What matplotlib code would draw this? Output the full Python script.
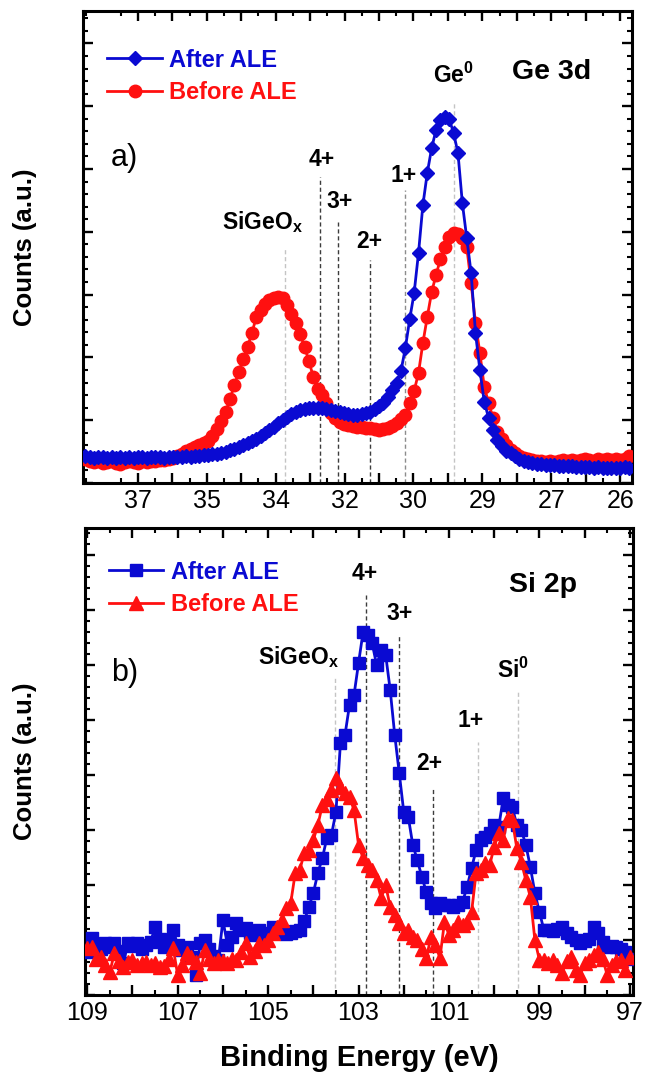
import numpy as np
import matplotlib
matplotlib.use("Agg")
import matplotlib.pyplot as plt
from matplotlib.ticker import MultipleLocator, FixedLocator, FuncFormatter
from matplotlib.lines import Line2D

plt.rcParams["font.family"] = ["Liberation Sans", "DejaVu Sans"]
plt.rcParams["mathtext.fontset"] = "custom"
plt.rcParams["mathtext.rm"] = "Liberation Sans"
plt.rcParams["mathtext.bf"] = "Liberation Sans:bold"

# ---------------- Ge 3d spectra (counts, a.u.) ----------------
ge_energy = np.round(np.arange(38.2, 25.75, -0.1), 1)   # 38.2 ... 25.8 eV

ge_before = [
    2.4, 2.2, 2.1, 2.2, 2.0, 2.1, 2.2, 2.0, 1.9, 2.1,
    2.2, 2.1, 2.0, 2.2, 2.1, 2.2, 2.2, 2.3, 2.3, 2.4,
    2.5, 2.7, 2.9, 3.2, 3.4, 3.6, 3.8, 4.0, 4.2, 4.7,
    5.4, 6.2, 7.1, 8.4, 9.8, 11.1, 12.4, 13.6, 15.0, 16.6,
    17.3, 17.9, 18.3, 18.5, 18.6, 18.5, 17.8, 16.9, 16.0, 14.9,
    13.6, 12.2, 10.6, 9.4, 8.8, 8.0, 7.0, 6.5, 6.1, 5.9,
    5.8, 5.7, 5.6, 5.6, 5.5, 5.5, 5.4, 5.3, 5.4, 5.5,
    5.7, 6.0, 6.4, 6.8, 8.0, 9.2, 11.0, 14.0, 16.6, 19.1,
    20.8, 22.4, 23.6, 24.6, 25.0, 24.9, 24.5, 23.6, 20.0, 16.0,
    13.0, 9.6, 8.0, 6.5, 5.1, 4.4, 3.8, 3.3, 3.0, 2.7,
    2.5, 2.4, 2.3, 2.2, 2.2, 2.1, 2.2, 2.1, 2.2, 2.3,
    2.2, 2.3, 2.2, 2.3, 2.4, 2.3, 2.2, 2.4, 2.3, 2.4,
    2.3, 2.4, 2.3, 2.4, 2.7,
]

ge_after = [
    2.7, 2.6, 2.5, 2.6, 2.6, 2.5, 2.6, 2.5, 2.6, 2.5,
    2.6, 2.5, 2.6, 2.6, 2.5, 2.6, 2.6, 2.6, 2.5, 2.6,
    2.6, 2.6, 2.6, 2.7, 2.6, 2.7, 2.7, 2.8, 2.8, 2.9,
    2.9, 3.0, 3.1, 3.3, 3.4, 3.6, 3.8, 4.0, 4.2, 4.4,
    4.7, 5.0, 5.3, 5.6, 6.0, 6.3, 6.6, 6.9, 7.1, 7.3,
    7.4, 7.5, 7.5, 7.5, 7.5, 7.4, 7.3, 7.2, 7.1, 7.0,
    6.9, 6.8, 6.8, 6.9, 7.0, 7.1, 7.4, 7.7, 8.0, 8.6,
    9.3, 10.0, 11.2, 13.5, 16.4, 19.0, 23.0, 27.8, 31.0, 33.5,
    35.3, 36.3, 36.6, 36.4, 35.0, 33.0, 28.0, 24.5, 21.0, 15.0,
    11.3, 8.1, 6.5, 5.3, 4.3, 3.7, 3.2, 3.0, 2.7, 2.4,
    2.2, 2.1, 2.0, 1.9, 1.9, 1.8, 1.8, 1.8, 1.7, 1.7,
    1.7, 1.7, 1.6, 1.6, 1.6, 1.6, 1.5, 1.6, 1.5, 1.5,
    1.5, 1.5, 1.5, 1.6, 1.5,
]

ge_tick_labels = ["37", "35", "34", "32", "30", "29", "27", "26"]
ge_tick_first, ge_tick_last = 37.0, 26.0

ge_states = ["SiGeO$_{\\mathbf{x}}$", "4+", "3+", "2+", "1+", "Ge$^{\\mathbf{0}}$"]
ge_state_energy = [33.65, 32.85, 32.44, 31.71, 30.91, 29.79]

# ---------------- Si 2p spectra (counts, a.u.) ----------------
si_energy = np.round(np.arange(109.0, 96.95, -0.1), 1)  # 109.0 ... 97.0 eV

si_after = [
    4.3, 5.7, 5.0, 4.6, 5.2, 4.8, 5.2, 4.4, 3.2, 5.2,
    4.9, 5.2, 4.6, 5.0, 5.3, 6.8, 5.6, 4.8, 5.4, 6.5,
    5.0, 4.5, 4.8, 3.8, 2.0, 5.2, 5.5, 4.6, 3.9, 3.5,
    7.5, 5.0, 5.8, 7.2, 6.5, 6.7, 6.2, 6.0, 6.5, 5.8,
    6.2, 6.8, 6.4, 6.3, 6.1, 6.2, 6.4, 6.5, 7.4, 8.8,
    10.2, 12.2, 13.7, 15.7, 16.0, 18.3, 25.2, 26.0, 29.0, 30.0,
    33.2, 36.3, 36.0, 35.2, 33.0, 34.5, 34.0, 30.5, 26.0, 22.2,
    18.3, 17.8, 15.0, 13.5, 11.8, 10.3, 9.2, 8.7, 9.2, 9.0,
    9.0, 8.8, 9.0, 9.3, 10.8, 12.7, 14.5, 15.5, 15.8, 16.2,
    17.0, 16.8, 19.7, 19.0, 18.8, 17.0, 16.5, 15.0, 12.8, 10.2,
    8.3, 6.5, 6.5, 6.4, 6.6, 6.8, 6.2, 5.8, 5.5, 5.2,
    5.4, 5.6, 6.8, 6.2, 5.3, 4.8, 4.9, 4.8, 4.6, 4.3,
    3.6,
]

si_before = [
    4.7, 4.8, 3.6, 3.8, 3.0, 2.3, 4.2, 3.4, 2.8, 3.3,
    3.5, 3.0, 3.2, 3.3, 3.0, 3.2, 2.8, 2.9, 3.6, 4.7,
    2.0, 3.0, 4.2, 3.8, 3.3, 2.2, 4.5, 3.6, 3.2, 3.5,
    3.4, 3.2, 3.6, 3.5, 4.3, 5.2, 3.8, 4.4, 5.2, 5.0,
    5.5, 6.2, 6.8, 7.5, 8.7, 9.2, 12.2, 12.5, 14.2, 14.5,
    15.5, 17.0, 19.0, 19.6, 20.5, 21.7, 20.8, 20.2, 19.8, 18.5,
    15.0, 13.7, 13.0, 12.5, 11.5, 9.7, 11.0, 8.8, 8.0, 7.2,
    6.2, 6.5, 5.8, 5.5, 4.6, 3.7, 5.8, 5.0, 3.7, 7.3,
    6.0, 6.5, 7.3, 7.0, 7.3, 8.3, 12.2, 12.5, 13.2, 13.0,
    14.8, 16.2, 15.5, 17.7, 17.5, 14.7, 13.3, 11.5, 9.8, 5.5,
    3.5, 3.5, 3.2, 3.5, 3.0, 2.2, 3.4, 3.8, 2.5, 2.0,
    3.2, 3.5, 4.0, 4.3, 3.6, 2.0, 3.0, 3.4, 3.5, 2.5,
    3.8,
]

si_states = ["SiGeO$_{\\mathbf{x}}$", "4+", "3+", "2+", "1+", "Si$^{\\mathbf{0}}$"]
si_state_energy = [103.52, 102.83, 102.11, 101.35, 100.35, 99.47]

# ---------------- styling ----------------
BLUE = "#0a0ad2"
RED = "#ff1010"
LIGHT = "#c4c4c4"
MED = "#8c8c8c"
DARK = "#3c3c3c"

# label placement (x, y in data units), top of the guide line, and line shade
ge_label_xy = [(34.17, 26.1), (32.80, 32.3), (32.41, 28.1), (31.73, 24.1), (30.95, 30.8), (29.81, 40.8)]
ge_line_top = [23.6, 30.6, 26.1, 22.3, 29.3, 38.0]
ge_line_col = [LIGHT, DARK, DARK, DARK, MED, LIGHT]

si_label_xy = [(104.32, 33.8), (102.86, 42.2), (102.10, 38.2), (101.44, 23.2), (100.53, 27.5), (99.58, 32.5)]
si_line_top = [31.7, 40.2, 36.1, 20.8, 25.3, 30.5]
si_line_col = [LIGHT, DARK, DARK, DARK, LIGHT, LIGHT]

fig = plt.figure(figsize=(6.45, 10.78), dpi=100)
ax1 = fig.add_axes([82.7 / 645, 1 - 483 / 1078, (632 - 82.7) / 645, (483 - 11) / 1078])
ax2 = fig.add_axes([85 / 645, 1 - 995 / 1078, (633 - 85) / 645, (995 - 528) / 1078])


def style_axes(ax):
    for sp in ax.spines.values():
        sp.set_linewidth(2.2)
        sp.set_color("black")
    ax.tick_params(which="both", direction="in", top=True, right=True,
                   labelleft=False, color="black")
    ax.tick_params(which="major", length=7, width=1.7, labelsize=18, pad=4)
    ax.tick_params(which="minor", length=3.8, width=1.5)


# ---- panel a: Ge 3d ----
ge_step = (ge_tick_first - ge_tick_last) / (len(ge_tick_labels) - 1)
ax1.set_xlim(38.26, 25.73)
ax1.set_ylim(0, 47.2)
ax1.plot(ge_energy, ge_before, "-o", color=RED, lw=2.0, ms=9, mec=RED, zorder=3)
ax1.plot(ge_energy, ge_after, "-D", color=BLUE, lw=2.0, ms=7, mec=BLUE, zorder=4)

major = ge_tick_first - np.arange(2 * len(ge_tick_labels) - 1) * ge_step / 2
ax1.xaxis.set_major_locator(FixedLocator(major))
ax1.set_xticklabels([ge_tick_labels[i // 2] if i % 2 == 0 else "" for i in range(len(major))])
ax1.xaxis.set_minor_locator(FixedLocator(ge_tick_first + ge_step / 4 - np.arange(-2, 30) * ge_step / 2))
ax1.yaxis.set_major_locator(MultipleLocator(6.28))
ax1.yaxis.set_minor_locator(MultipleLocator(1.256))
style_axes(ax1)

for name, e, (tx, ty), top, col in zip(ge_states, ge_state_energy, ge_label_xy, ge_line_top, ge_line_col):
    ax1.vlines(e, 0, top, colors=col, linestyles=(0, (3, 2)), lw=1.0, zorder=1)
    ax1.text(tx, ty, name, ha="center", va="center", fontsize=16.5, fontweight="bold")
ax1.text(27.57, 41.1, "Ge 3d", ha="center", va="center", fontsize=20.5, fontweight="bold")
ax1.text(37.3, 32.5, "a)", ha="center", va="center", fontsize=22)

h1 = [Line2D([], [], color=BLUE, marker="D", ms=7, lw=2.0, label="After ALE"),
      Line2D([], [], color=RED, marker="o", ms=9, lw=2.0, label="Before ALE")]
ax1.legend(handles=h1, loc="upper left", bbox_to_anchor=(0.045, 0.92), frameon=False,
           borderpad=0, borderaxespad=0, handlelength=2.3, handletextpad=0.3,
           labelspacing=0.4, numpoints=1, labelcolor="linecolor",
           prop={"size": 17, "weight": "bold"})
ax1.set_ylabel("Counts (a.u.)", fontsize=18.5, fontweight="bold")
ax1.yaxis.set_label_coords(-0.083, 0.5)

# ---- panel b: Si 2p ----
ax2.set_xlim(109.05, 96.93)
ax2.set_ylim(0, 46.7)
ax2.plot(si_energy, si_after, "-s", color=BLUE, lw=2.0, ms=8.5, mec=BLUE, zorder=3)
ax2.plot(si_energy, si_before, "-^", color=RED, lw=2.0, ms=10.5, mec=RED, zorder=4)
ax2.xaxis.set_major_locator(MultipleLocator(1))
ax2.xaxis.set_minor_locator(MultipleLocator(0.5))
ax2.xaxis.set_major_formatter(FuncFormatter(lambda v, p: f"{v:.0f}" if int(round(v)) % 2 == 1 else ""))
ax2.yaxis.set_major_locator(MultipleLocator(5.5))
ax2.yaxis.set_minor_locator(MultipleLocator(1.1))
style_axes(ax2)

for name, e, (tx, ty), top, col in zip(si_states, si_state_energy, si_label_xy, si_line_top, si_line_col):
    ax2.vlines(e, 0, top, colors=col, linestyles=(0, (3, 2)), lw=1.0, zorder=1)
    ax2.text(tx, ty, name, ha="center", va="center", fontsize=16.5, fontweight="bold")
ax2.text(98.92, 41.0, "Si 2p", ha="center", va="center", fontsize=20.5, fontweight="bold")
ax2.text(108.17, 32.2, "b)", ha="center", va="center", fontsize=22)

h2 = [Line2D([], [], color=BLUE, marker="s", ms=8.5, lw=2.0, label="After ALE"),
      Line2D([], [], color=RED, marker="^", ms=10.5, lw=2.0, label="Before ALE")]
ax2.legend(handles=h2, loc="upper left", bbox_to_anchor=(0.044, 0.93), frameon=False,
           borderpad=0, borderaxespad=0, handlelength=2.3, handletextpad=0.3,
           labelspacing=0.4, numpoints=1, labelcolor="linecolor",
           prop={"size": 17, "weight": "bold"})
ax2.set_ylabel("Counts (a.u.)", fontsize=18.5, fontweight="bold")
ax2.yaxis.set_label_coords(-0.088, 0.5)
ax2.set_xlabel("Binding Energy (eV)", fontsize=21, fontweight="bold")
ax2.xaxis.set_label_coords(0.5, -0.105)

fig.savefig("out.png", dpi=100)
